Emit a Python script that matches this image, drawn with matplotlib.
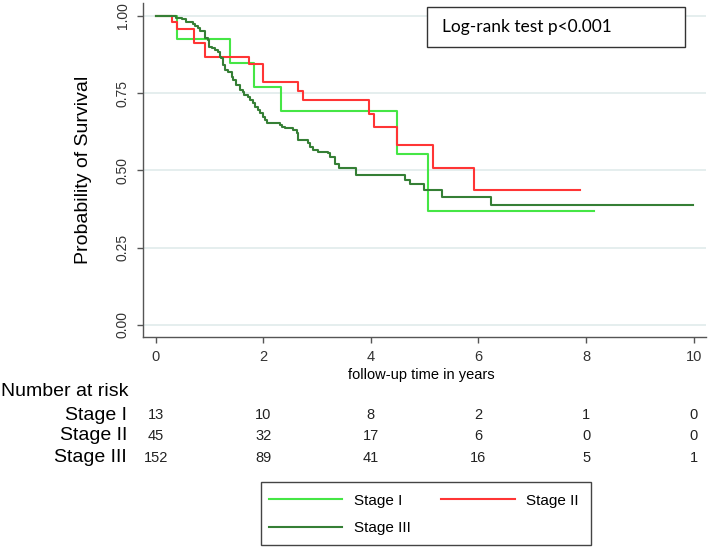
import matplotlib
matplotlib.use("Agg")
import matplotlib.pyplot as plt
from matplotlib import transforms
from matplotlib.patches import Rectangle

# Kaplan-Meier steps (time in years, survival)
t_stage1 = [0, 0.40, 1.39, 1.82, 2.33, 4.49, 5.06, 8.15]
s_stage1 = [1.0, 0.923, 0.846, 0.769, 0.692, 0.554, 0.369, 0.369]

t_stage2 = [0, 0.30, 0.40, 0.72, 0.91, 1.73, 2.00, 2.65, 2.73, 3.97, 4.06,
            4.49, 5.16, 5.91, 7.88]
s_stage2 = [1.0, 0.978, 0.956, 0.911, 0.867, 0.844, 0.785, 0.756, 0.726,
            0.683, 0.640, 0.581, 0.509, 0.438, 0.438]

t_stage3 = [0, 0.38, 0.48, 0.56, 0.60, 0.69, 0.73, 0.79, 0.82, 0.92, 0.98,
            0.99, 1.05, 1.10, 1.16, 1.19, 1.22, 1.25, 1.29, 1.35, 1.41, 1.44,
            1.50, 1.56, 1.62, 1.65, 1.72, 1.75, 1.81, 1.85, 1.91, 1.94, 2.00,
            2.03, 2.06, 2.31, 2.34, 2.40, 2.55, 2.62, 2.65, 2.83, 2.87, 2.93,
            3.02, 3.21, 3.24, 3.33, 3.41, 3.72, 4.64, 4.73, 4.98, 5.32, 6.23,
            9.98]
s_stage3 = [1.0, 0.993, 0.988, 0.981, 0.978, 0.973, 0.967, 0.959, 0.951,
            0.927, 0.921, 0.900, 0.894, 0.889, 0.884, 0.868, 0.862, 0.841,
            0.824, 0.819, 0.803, 0.792, 0.776, 0.760, 0.754, 0.744, 0.738,
            0.727, 0.717, 0.706, 0.695, 0.684, 0.673, 0.663, 0.652, 0.647,
            0.641, 0.636, 0.631, 0.620, 0.598, 0.587, 0.577, 0.566, 0.560,
            0.555, 0.544, 0.520, 0.507, 0.484, 0.468, 0.455, 0.437, 0.414,
            0.387, 0.387]

y_ticks = [0, 0.25, 0.5, 0.75, 1.0]
y_tick_labels = ["0.00", "0.25", "0.50", "0.75", "1.00"]

risk_times = [0, 2, 4, 6, 8, 10]
risk_stage1 = [13, 10, 8, 2, 1, 0]
risk_stage2 = [45, 32, 17, 6, 0, 0]
risk_stage3 = [152, 89, 41, 16, 5, 1]

group_names = ["Stage I", "Stage II", "Stage III"]
group_colors = ["#45e645", "#ff3535", "#357f35"]

plt.rcParams["font.family"] = ["Liberation Sans", "DejaVu Sans"]

W, H = 709, 547
fig = plt.figure(figsize=(W / 100, H / 100), dpi=100)
ax = fig.add_axes([143 / W, 1 - 337.3 / H, (706 - 143) / W, (337.3 - 3) / H])

curves = [(t_stage1, s_stage1), (t_stage2, s_stage2), (t_stage3, s_stage3)]
for (t, s), name, col in zip(curves, group_names, group_colors):
    ax.plot(t, s, drawstyle="steps-post", color=col, lw=1.5, label=name)

ax.set_xlim(-0.236, 10.23)
ax.set_ylim(-0.0398, 1.041)
ax.set_xticks(risk_times)
ax.set_yticks(y_ticks)
ax.set_yticklabels(y_tick_labels, rotation=90, va="center")
ax.tick_params(axis="both", direction="out", length=4.5, width=1,
               colors="#555555", labelcolor="#333333", labelsize=10.5)
ax.tick_params(axis="y", pad=5, labelsize=10)
ax.tick_params(axis="x", pad=5)
ax.yaxis.grid(True, color="#e3eded", lw=1.3)
ax.set_axisbelow(True)
for side in ["top", "right"]:
    ax.spines[side].set_visible(False)
for side in ["left", "bottom"]:
    ax.spines[side].set_color("#555555")
    ax.spines[side].set_linewidth(1)

fig.text(84 / W, 1 - 170 / H, "Probability of Survival", rotation=90,
         ha="center", va="center", fontsize=14)
fig.text(421 / W, 1 - 375 / H, "follow-up time in years",
         ha="center", va="center", fontsize=10.5)

# number at risk table
trans = transforms.blended_transform_factory(ax.transData, fig.transFigure)
fig.text(1 / W, 1 - 392 / H, "Number at risk", ha="left", va="center",
         fontsize=14)
row_y = [415, 436, 458]
for name, counts, py in zip(group_names,
                            [risk_stage1, risk_stage2, risk_stage3], row_y):
    fig.text(127 / W, 1 - py / H, name, ha="right", va="center", fontsize=14)
    for tt, n in zip(risk_times, counts):
        ax.text(tt, 1 - py / H, str(n), transform=trans, ha="center",
                va="center", fontsize=10.5, color="#222222")

# log-rank box
box = Rectangle((426.7 / W, 1 - 47.3 / H), (685 - 426.7) / W, 40 / H,
                transform=fig.transFigure, facecolor="white",
                edgecolor="#333333", lw=1)
fig.add_artist(box)
fig.text(441.7 / W, 1 - 27 / H, "Log-rank test p<0.001", family="Lato",
         fontsize=12.5, ha="left", va="center")

# legend: frame drawn separately so its size matches the original
leg_frame = Rectangle((260.7 / W, 1 - 545 / H), (590.7 - 260.7) / W,
                      (545 - 481.7) / H, transform=fig.transFigure,
                      facecolor="white", edgecolor="#444444", lw=1)
fig.add_artist(leg_frame)
handles, labels = ax.get_legend_handles_labels()
order = [0, 2, 1]
leg = fig.legend([handles[i] for i in order], [labels[i] for i in order],
                 ncol=2, loc="upper left",
                 bbox_to_anchor=(269 / W, 1 - 493.5 / H),
                 frameon=False, fontsize=11, handlelength=4.8,
                 handletextpad=0.75, columnspacing=2.0, labelspacing=0.9,
                 borderpad=0, borderaxespad=0)
leg.set_zorder(5)

fig.savefig("out.png", dpi=100)
